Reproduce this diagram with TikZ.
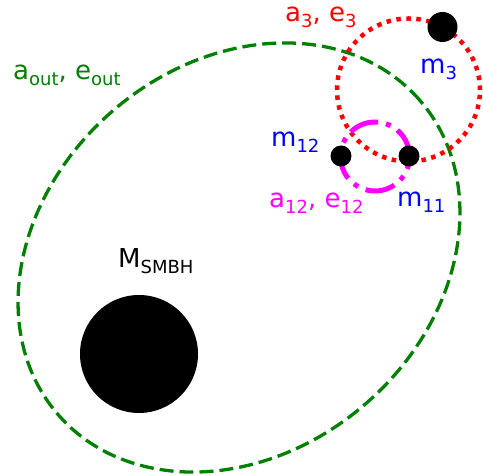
\documentclass[tikz,border=0pt]{standalone}
\usepackage{fontspec}
\setmainfont{DejaVu Sans}
\definecolor{mgreen}{RGB}{0,128,0}
\definecolor{mred}{RGB}{255,0,0}
\definecolor{mmag}{RGB}{255,0,255}
\definecolor{mblue}{RGB}{0,0,255}
\newcommand{\sbs}[1]{\raisebox{-0.22em}{\fontsize{18}{20}\selectfont #1}}
\tikzset{
  body/.style={circle, fill=black, inner sep=0pt},
  lab/.style={anchor=base west, inner sep=0pt, font=\fontsize{26}{30}\selectfont},
  outorbit/.style={draw=mgreen, line width=3.3pt, dash pattern=on 14pt off 6pt},
  orbthree/.style={draw=mred, line width=4.5pt, dash pattern=on 4.5pt off 5.5pt},
  orbtwelve/.style={draw=mmag, line width=5pt, dash pattern=on 30pt off 8pt on 5pt off 8pt},
}
\begin{document}
\begin{tikzpicture}[x=1pt,y=1pt]
\useasboundingbox (0,0) rectangle (483,476);
\coordinate (cout) at (239,218.5);
\coordinate (cthree) at (408.5,386);
\coordinate (ctwelve) at (375,319.5);
\draw[outorbit] (cout) ellipse[x radius=239.6, y radius=193.5, rotate=41];
\draw[orbthree] (cthree) circle[radius=71.5];
\draw[orbtwelve] (ctwelve) circle[radius=34.5];
\node[body, minimum size=118pt] (smbh) at (139,122) {};
\node[body, minimum size=30pt] (m3) at (442.5,449) {};
\node[body, minimum size=21pt] (m12) at (341,320) {};
\node[body, minimum size=21pt] (m11) at (409,320) {};
\node[lab, text=mred] (l3) at (285,454.3) {a\sbs{3}, e\sbs{3}};
\node[lab, text=mblue] (lm3) at (420,402.7) {m\sbs{3}};
\node[lab, text=mblue] (lm12) at (271,329.3) {m\sbs{12}};
\node[lab, text=mmag] (l12) at (269,268) {a\sbs{12}, e\sbs{12}};
\node[lab, text=mblue] (lm11) at (397,269) {m\sbs{11}};
\node[lab, text=mgreen] (lout) at (13,396) {a\sbs{out}, e\sbs{out}};
\node[lab, text=black] (lsmbh) at (118,208) {M\sbs{SMBH}};
\end{tikzpicture}
\end{document}
